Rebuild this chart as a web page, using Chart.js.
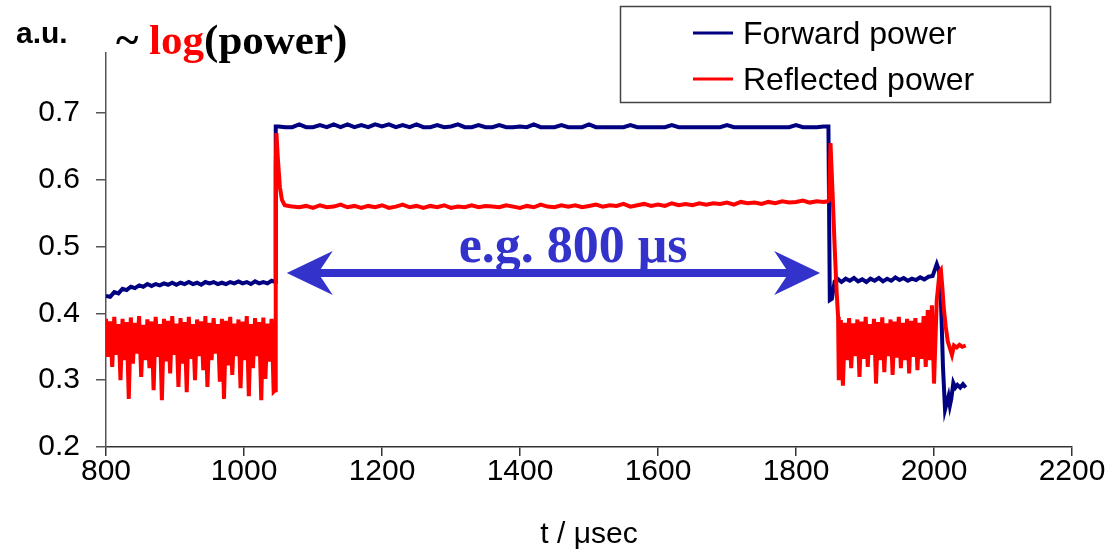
<!DOCTYPE html>
<html>
<head>
<meta charset="utf-8">
<script src="https://cdn.jsdelivr.net/npm/chart.js@4/dist/chart.umd.min.js"></script>
<style>
  body { margin: 0; background: #fff; }
  canvas { display: block; }
</style>
</head>
<body>
<canvas id="powerChart" width="1118" height="553"></canvas>
<script>
// ticks
const xTicks = [800, 1000, 1200, 1400, 1600, 1800, 2000, 2200];
const yTicks = [0.2, 0.3, 0.4, 0.5, 0.6, 0.7];

// forward power (t in µs, a.u.)
const fwdTime = [
  800, 806, 812, 818, 824, 830, 836, 842, 848, 854, 860, 866, 872, 878, 884, 890, 896, 902, 908, 914,
  920, 926, 932, 938, 944, 950, 956, 962, 968, 974, 980, 986, 992, 998, 1004, 1010, 1016, 1022, 1028, 1034,
  1040, 1045, 1046,
  1050, 1060, 1070, 1080, 1090, 1100, 1110, 1120, 1130, 1140,
  1150, 1160, 1170, 1180, 1190, 1200, 1210, 1220, 1230, 1240,
  1250, 1260, 1270, 1280, 1290, 1300, 1310, 1320, 1330, 1340,
  1350, 1360, 1370, 1380, 1390, 1400, 1410, 1420, 1430, 1440,
  1450, 1460, 1470, 1480, 1490, 1500, 1510, 1520, 1530, 1540,
  1550, 1560, 1570, 1580, 1590, 1600, 1610, 1620, 1630, 1640,
  1650, 1660, 1670, 1680, 1690, 1700, 1710, 1720, 1730, 1740,
  1750, 1760, 1770, 1780, 1790, 1800, 1810, 1820, 1830, 1840,
  1847, 1849, 1852, 1856, 1860,
  1866, 1872, 1878, 1884, 1890, 1896, 1902, 1908, 1914, 1920, 1926, 1932, 1938, 1944, 1950, 1956,
  1962, 1968, 1974, 1980, 1986, 1992, 1998,
  2002, 2004, 2007, 2009, 2011, 2013, 2016, 2018, 2021, 2023, 2025, 2028, 2031, 2034, 2038, 2042, 2046
];
const fwdPower = [
  0.426, 0.425, 0.432, 0.430, 0.437, 0.435, 0.440, 0.438, 0.442, 0.440, 0.444, 0.441, 0.444, 0.442, 0.445, 0.443, 0.446, 0.443, 0.446, 0.444,
  0.447, 0.444, 0.446, 0.443, 0.447, 0.445, 0.447, 0.444, 0.446, 0.444, 0.447, 0.445, 0.448, 0.445, 0.447, 0.444, 0.448, 0.445, 0.447, 0.445,
  0.449, 0.447, 0.680,
  0.680, 0.679, 0.679, 0.683, 0.679, 0.679, 0.682, 0.679, 0.683, 0.679,
  0.683, 0.679, 0.682, 0.679, 0.683, 0.680, 0.683, 0.679, 0.682, 0.679,
  0.683, 0.679, 0.679, 0.682, 0.679, 0.680, 0.683, 0.679, 0.679, 0.682,
  0.679, 0.679, 0.682, 0.679, 0.679, 0.680, 0.679, 0.683, 0.679, 0.679,
  0.679, 0.682, 0.679, 0.679, 0.679, 0.683, 0.679, 0.679, 0.679, 0.679,
  0.679, 0.682, 0.679, 0.679, 0.679, 0.679, 0.679, 0.682, 0.679, 0.679,
  0.679, 0.679, 0.679, 0.679, 0.679, 0.682, 0.679, 0.679, 0.679, 0.679,
  0.679, 0.679, 0.679, 0.679, 0.679, 0.682, 0.679, 0.679, 0.679, 0.680,
  0.680, 0.420, 0.422, 0.448, 0.452,
  0.447, 0.452, 0.449, 0.453, 0.448, 0.451, 0.447, 0.452, 0.449, 0.453, 0.448, 0.452, 0.449, 0.454, 0.450, 0.453,
  0.449, 0.452, 0.450, 0.454, 0.451, 0.455, 0.456,
  0.468, 0.474, 0.465, 0.450, 0.390, 0.320, 0.256, 0.264, 0.276, 0.262, 0.272, 0.296, 0.289, 0.293, 0.289, 0.294, 0.289
];

// reflected power
const refTime = [
  800, 803, 806, 809, 812, 815, 818, 821, 824, 827, 830, 833, 836, 839, 842, 845, 848, 851, 854, 857,
  860, 863, 866, 869, 872, 875, 878, 881, 884, 887, 890, 893, 896, 899, 902, 905, 908, 911, 914, 917,
  920, 923, 926, 929, 932, 935, 938, 941, 944, 947, 950, 953, 956, 959, 962, 965, 968, 971, 974, 977,
  980, 983, 986, 989, 992, 995, 998, 1001, 1004, 1007, 1010, 1013, 1016, 1019, 1022, 1025, 1028, 1031, 1034, 1037,
  1040, 1043,
  1045, 1046, 1047, 1049, 1052, 1055, 1059, 1065,
  1070, 1080, 1090, 1100, 1110, 1120, 1130, 1140, 1150, 1160,
  1170, 1180, 1190, 1200, 1210, 1220, 1230, 1240, 1250, 1260,
  1270, 1280, 1290, 1300, 1310, 1320, 1330, 1340, 1350, 1360,
  1370, 1380, 1390, 1400, 1410, 1420, 1430, 1440, 1450, 1460,
  1470, 1480, 1490, 1500, 1510, 1520, 1530, 1540, 1550, 1560,
  1570, 1580, 1590, 1600, 1610, 1620, 1630, 1640, 1650, 1660,
  1670, 1680, 1690, 1700, 1710, 1720, 1730, 1740, 1750, 1760,
  1770, 1780, 1790, 1800, 1810, 1820, 1830, 1840,
  1846, 1848, 1850, 1853, 1856, 1859, 1861,
  1862, 1865, 1868, 1871, 1874, 1877, 1880, 1883, 1886, 1889,
  1892, 1895, 1898, 1901, 1904, 1907, 1910, 1913, 1916, 1919,
  1922, 1925, 1928, 1931, 1934, 1937, 1940, 1943, 1946, 1949,
  1952, 1955, 1958, 1961, 1964, 1967, 1970, 1973, 1976, 1979,
  1982, 1985, 1988, 1991, 1994, 1997, 2000,
  2004, 2006, 2008, 2010, 2012, 2014, 2017, 2020, 2023, 2026, 2029, 2033, 2037, 2041, 2046
];
const refPower = [
  0.392, 0.335, 0.388, 0.320, 0.395, 0.338, 0.384, 0.300, 0.392, 0.330, 0.387, 0.272, 0.394, 0.325, 0.386, 0.340, 0.396, 0.305, 0.383, 0.330,
  0.391, 0.318, 0.388, 0.285, 0.395, 0.335, 0.384, 0.270, 0.392, 0.328, 0.389, 0.310, 0.396, 0.338, 0.385, 0.290, 0.393, 0.325, 0.387, 0.282,
  0.395, 0.332, 0.384, 0.300, 0.391, 0.336, 0.388, 0.315, 0.396, 0.290, 0.386, 0.330, 0.393, 0.340, 0.384, 0.298, 0.392, 0.272, 0.389, 0.322,
  0.395, 0.308, 0.385, 0.336, 0.391, 0.288, 0.388, 0.330, 0.396, 0.276, 0.384, 0.318, 0.393, 0.336, 0.387, 0.270, 0.394, 0.302, 0.385, 0.328,
  0.392, 0.283,
  0.285, 0.620, 0.670, 0.633, 0.589, 0.570, 0.562, 0.561,
  0.560, 0.559, 0.561, 0.558, 0.562, 0.559, 0.560, 0.563, 0.559, 0.561,
  0.558, 0.561, 0.559, 0.562, 0.558, 0.560, 0.563, 0.559, 0.561, 0.558,
  0.561, 0.559, 0.562, 0.558, 0.560, 0.559, 0.562, 0.559, 0.561, 0.560,
  0.559, 0.562, 0.560, 0.558, 0.561, 0.559, 0.563, 0.560, 0.559, 0.562,
  0.560, 0.562, 0.559, 0.561, 0.563, 0.560, 0.562, 0.561, 0.564, 0.560,
  0.562, 0.564, 0.561, 0.563, 0.561, 0.565, 0.562, 0.564, 0.562, 0.565,
  0.563, 0.565, 0.564, 0.566, 0.563, 0.567, 0.565, 0.566, 0.564, 0.567,
  0.565, 0.568, 0.566, 0.567, 0.569, 0.566, 0.568, 0.567,
  0.568, 0.570, 0.655, 0.580, 0.500, 0.430, 0.395,
  0.300, 0.390, 0.292, 0.386, 0.330, 0.393, 0.318, 0.385, 0.336, 0.391,
  0.305, 0.388, 0.332, 0.395, 0.320, 0.384, 0.338, 0.392, 0.295, 0.387,
  0.330, 0.394, 0.312, 0.385, 0.336, 0.391, 0.308, 0.388, 0.334, 0.395,
  0.318, 0.386, 0.330, 0.392, 0.310, 0.389, 0.335, 0.393, 0.315, 0.386,
  0.332, 0.396, 0.320, 0.405, 0.330, 0.412, 0.295,
  0.420, 0.440, 0.462, 0.465, 0.440, 0.410, 0.380, 0.358, 0.348, 0.338, 0.352, 0.349, 0.353, 0.350, 0.352
];

// arrow annotation "e.g. 800 µs" (data units)
const arrowFrom = 1062;
const arrowTo = 1835;
const arrowLevel = 0.4605;
const noteX = 1477;
const noteY = 0.477;

const toPoints = (ts, vs) => ts.map((t, i) => ({ x: t, y: vs[i] }));

const sans = '"Liberation Sans", Arial, sans-serif';
const serif = '"Liberation Serif", "Times New Roman", serif';

// texts, legend box and the arrow drawn on top of the chart
const extras = {
  id: 'extras',
  afterDraw(chart) {
    const { ctx, scales: { x, y } } = chart;
    ctx.save();

    // unit label + heading
    ctx.fillStyle = '#000';
    ctx.textBaseline = 'alphabetic';
    ctx.font = `bold 30px ${sans}`;
    ctx.fillText('a.u.', 16, 43);

    ctx.font = `bold 43px ${serif}`;
    let hx = 116;
    ctx.fillText('~ ', hx, 54);
    hx += ctx.measureText('~ ').width;
    ctx.fillStyle = '#ff0000';
    ctx.fillText('log', hx, 54);
    hx += ctx.measureText('log').width;
    ctx.fillStyle = '#000';
    ctx.fillText('(power)', hx, 54);

    // legend
    ctx.strokeStyle = '#444';
    ctx.lineWidth = 1.5;
    ctx.strokeRect(620.5, 6.5, 430, 96);
    ctx.font = `32px ${sans}`;
    ctx.lineWidth = 3;
    chart.data.datasets.forEach((ds, i) => {
      const ly = 33 + i * 46;
      ctx.strokeStyle = ds.borderColor;
      ctx.beginPath();
      ctx.moveTo(693, ly);
      ctx.lineTo(733, ly);
      ctx.stroke();
      ctx.fillStyle = '#000';
      ctx.fillText(ds.label, 743, ly + 11);
    });

    // double arrow
    const xl = x.getPixelForValue(arrowFrom);
    const xr = x.getPixelForValue(arrowTo);
    const ya = y.getPixelForValue(arrowLevel);
    const hl = 46, hw = 22, notch = 12, sw = 4;
    ctx.fillStyle = '#3333cc';
    ctx.beginPath();
    ctx.moveTo(xl, ya);
    ctx.lineTo(xl + hl, ya - hw);
    ctx.lineTo(xl + hl - notch, ya - sw);
    ctx.lineTo(xr - hl + notch, ya - sw);
    ctx.lineTo(xr - hl, ya - hw);
    ctx.lineTo(xr, ya);
    ctx.lineTo(xr - hl, ya + hw);
    ctx.lineTo(xr - hl + notch, ya + sw);
    ctx.lineTo(xl + hl - notch, ya + sw);
    ctx.lineTo(xl + hl, ya + hw);
    ctx.closePath();
    ctx.fill();

    ctx.font = `bold 52px ${serif}`;
    ctx.textAlign = 'center';
    ctx.fillText('e.g. 800 μs', x.getPixelForValue(noteX), y.getPixelForValue(noteY));

    ctx.restore();
  }
};

const axisFont = { family: sans, size: 30 };

new Chart(document.getElementById('powerChart'), {
  type: 'line',
  data: {
    datasets: [
      {
        label: 'Forward power',
        data: toPoints(fwdTime, fwdPower),
        borderColor: '#000080',
        borderWidth: 4,
        pointRadius: 0,
        order: 2
      },
      {
        label: 'Reflected power',
        data: toPoints(refTime, refPower),
        borderColor: '#ff0000',
        borderWidth: 4,
        pointRadius: 0,
        order: 1
      }
    ]
  },
  options: {
    responsive: false,
    animation: false,
    layout: { padding: { top: 53, right: 46, left: 0, bottom: 0 } },
    plugins: { legend: { display: false }, tooltip: { enabled: false } },
    scales: {
      x: {
        type: 'linear',
        min: 800,
        max: 2200,
        afterBuildTicks: s => { s.ticks = xTicks.map(v => ({ value: v })); },
        afterFit: s => { s.height = 106; },
        ticks: { color: '#000', font: axisFont, padding: -2, maxRotation: 0, callback: v => String(v) },
        grid: { drawOnChartArea: false, tickLength: 9, color: '#333', lineWidth: 1.5 },
        border: { color: '#333', width: 1.5 },
        title: { display: true, text: 't / μsec', color: '#000', font: { family: sans, size: 30 }, padding: { top: 0, bottom: 0 } }
      },
      y: {
        min: 0.2,
        max: 0.79,
        afterBuildTicks: s => { s.ticks = yTicks.map(v => ({ value: v })); },
        afterFit: s => { s.width = 106; },
        ticks: { color: '#000', font: axisFont, padding: 16, callback: v => v.toFixed(1) },
        grid: { drawOnChartArea: false, tickLength: 10, color: '#555', lineWidth: 1.5 },
        border: { color: '#555', width: 1.5 }
      }
    }
  },
  plugins: [extras]
});
</script>
</body>
</html>
